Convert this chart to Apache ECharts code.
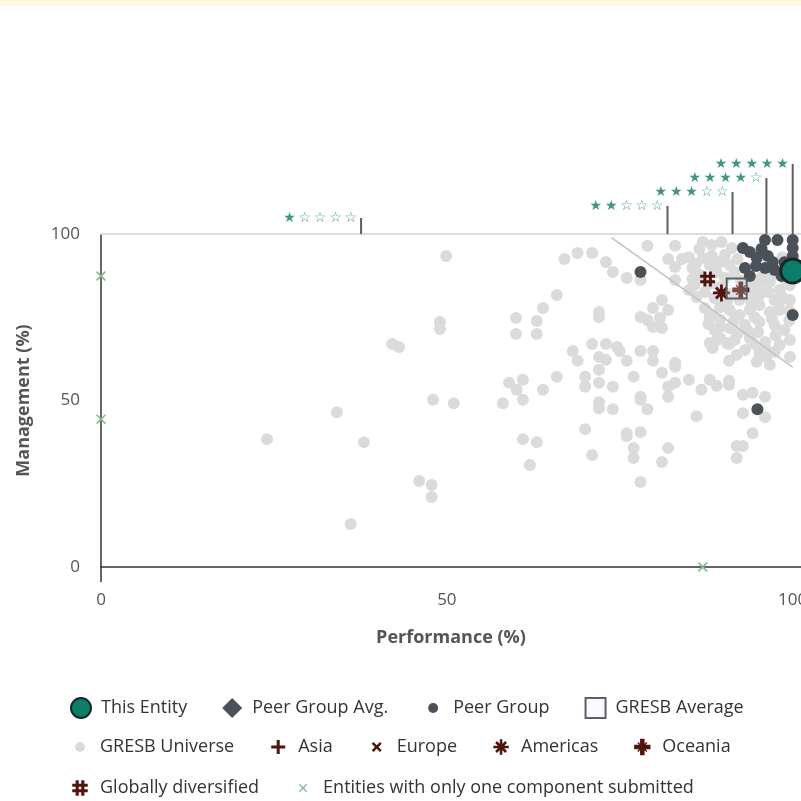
<!DOCTYPE html>
<html>
<head>
<meta charset="utf-8">
<script src="https://cdn.jsdelivr.net/npm/echarts@6/dist/echarts.min.js"></script>
<style>
html,body{margin:0;padding:0;background:#fff;}
#band{position:absolute;left:0;top:0;width:801px;height:6px;background:#fff7e1;}
#chart{position:absolute;left:0;top:0;width:801px;height:801px;}
</style>
</head>
<body>
<div id="chart"></div>
<div id="band"></div>
<script>
// ---- data ----
const thisEntity = [[100, 88.9]];
const peerGroupAvg = [];
const peerGroup = [
  [78.0,88.6],[94.9,47.4],[100,75.7],[92.8,95.8],[93.8,94.6],[96.0,98.2],[97.8,98.2],[100,98.2],
  [100,95.8],[100,93.4],[94.8,92.8],[96.4,93.4],[93.1,89.8],[94.7,90.4],[96.0,89.8],[97.4,89.2],
  [98.4,87.4],[93.8,87.4],[97.1,91.6],[99.1,89.2],[95.5,95.5],[98.8,91.5]
];
const gresbAverage = [[91.9, 83.6]];
const gresbUniverse = [
  [24.0,38.4],[34.1,46.5],[38.0,37.5],[36.1,12.9],[42.1,67.0],[43.1,66.1],[49.9,93.4],[49.0,73.6],
  [49.0,71.5],[48.0,50.2],[51.0,49.2],[46.0,25.8],[47.8,24.6],[47.8,21.0],
  [67.0,92.5],[68.9,94.3],[71.0,94.3],[73.0,91.6],[74.0,88.6],[76.0,86.8],[78.0,86.2],
  [65.9,81.7],[63.9,77.8],[60.0,74.8],[63.0,73.9],[60.0,70.0],[63.0,70.0],[72.0,76.6],[72.0,75.1],
  [79.0,96.5],[83.0,96.5],[82.0,92.5],[84.0,92.5],[83.0,90.1],[83.0,86.2],[85.0,83.2],[86.1,81.1],
  [81.1,80.2],[79.8,77.8],[82.0,77.2],[78.0,75.1],[79.0,74.2],[80.8,74.8],[79.8,72.1],[81.1,71.8],
  [71.0,67.0],[73.0,67.0],[74.6,66.1],[75.0,64.9],[68.2,64.9],[68.9,61.9],[72.0,63.1],[73.0,62.2],
  [76.0,61.9],[78.0,64.9],[79.8,64.9],[79.8,61.9],[83.0,61.3],[83.0,60.1],[72.0,59.2],
  [70.0,57.1],[70.0,54.1],[72.0,55.3],[74.0,54.1],[77.0,57.1],[81.1,58.3],[83.0,55.3],[82.0,54.1],
  [82.0,51.1],[85.0,56.2],[86.8,53.2],[88.0,56.2],[89.0,54.4],[90.8,55.9],[90.8,54.7],
  [59.0,55.3],[60.1,53.2],[61.0,56.2],[61.0,50.2],[58.1,49.2],[63.9,53.2],[65.9,57.1],
  [72.0,49.5],[72.0,47.7],[74.0,47.4],[78.0,51.1],[78.0,50.2],[79.0,47.4],[86.1,45.3],
  [88.0,67.3],[89.0,68.2],[88.4,65.8],[90.8,67.0],[91.9,63.7],[90.8,61.9],[94.2,67.3],[95.2,65.2],
  [96.2,63.1],[94.8,61.6],
  [92.8,51.7],[94.2,52.3],[96.0,51.1],[92.8,46.2],[96.0,45.0],
  [94.2,40.2],[91.9,36.3],[92.8,36.3],[91.9,32.7],
  [70.0,41.4],[61.0,38.4],[63.0,37.5],[62.0,30.6],
  [76.0,40.2],[76.0,39.3],[78.0,40.5],[77.0,35.7],[77.0,32.7],[82.0,35.7],[81.1,31.5],[71.0,33.6],[78.0,25.5],
  [87.0,97.6],[88.3,96.7],[89.7,97.6],[91.2,95.8],[90.2,93.7],[88.3,93.4],[87.0,92.8],[85.5,89.8],
  [86.6,87.7],[88.0,90.7],[89.5,91.6],[90.9,90.7],[91.6,88.6],[90.2,86.8],[85.8,84.7],[87.3,82.6],
  [88.7,80.8],[90.5,79.6],[92.3,80.2],[93.8,83.2],[95.2,84.7],[96.7,85.6],[98.1,83.2],[99.6,84.7],
  [95.2,81.7],[97.4,80.2],[99.6,80.2],[87.3,77.8],[88.3,75.7],[89.5,74.2],[90.9,77.2],[92.3,75.7],
  [93.8,77.2],[95.2,78.7],[96.7,76.6],[98.1,77.2],[93.1,72.7],[95.2,73.6],[97.4,72.7],[98.8,71.2],
  [90.9,71.8],[88.7,71.2],[89.5,68.8],[91.6,68.2],[93.8,68.8],[96.0,67.6],[98.1,66.7],[99.6,68.2],
  [93.1,65.2],[95.2,63.7],[97.4,64.6],[99.6,63.1],[96.7,60.7],[88.0,75.1],[88.4,66.1],[90.5,67.3],
  [93.4,71.2],[96.2,65.2],[89.5,72.1],[91.3,72.1],
  [92.0,92.5],[95.5,96.0],[98.5,93.0],[94.0,86.0],[97.0,87.5],[99.0,86.0],[86.5,95.5],[85.0,93.0],
  [86.0,91.0],[89.0,88.5],[92.5,86.0],[95.5,87.0],[94.5,82.0],[96.5,82.5],[98.5,81.0],[91.0,82.0],
  [89.5,78.0],[94.5,75.0],[97.0,74.5],[99.5,74.0],[99.5,77.0],[91.5,74.0],[94.0,79.5],[98.0,79.0],
  [92.0,70.0],[95.0,70.5],[97.5,69.5],[87.8,73.0],[89.5,84.0],[85.5,86.5],[88.0,85.0]
];
const asia = [];
const europe = [];
const americas = [[89.7, 82.3]];
const oceania = [[92.5, 83.2]];
const globallyDiversified = [[87.7, 86.5]];
const oneComponent = [[0, 87.4], [0, 44.4], [87.0, 0]];
const diagonalLine = [[73.8, 98.9], [100, 60.0]];
const starThresholds = [37.6, 81.9, 91.3, 96.2, 100];
const starLineTops = [104.8, 108.4, 112.6, 116.8, 121.0];
const starLabels = ['★\u2009☆\u2009☆\u2009☆\u2009☆', '★\u2009★\u2009☆\u2009☆\u2009☆', '★\u2009★\u2009★\u2009☆\u2009☆',
                    '★\u2009★\u2009★\u2009★\u2009☆', '★\u2009★\u2009★\u2009★\u2009★'];
const xTickLabels = [0, 50, 100];
const yTickLabels = [0, 50, 100];

// ---- symbols ----
const P_PLUS = 'path://M8.5,3H11.5V8.5H17V11.5H11.5V17H8.5V11.5H3V8.5H8.5Z';
const P_CROSS = 'path://M4,6L6,4L10,8L14,4L16,6L12,10L16,14L14,16L10,12L6,16L4,14L8,10Z';
const P_AST = 'path://M8.6,1.5H11.4V18.5H8.6Z M1.5,8.6H18.5V11.4H1.5Z M3.5,5.5L5.5,3.5L16.5,14.5L14.5,16.5Z M14.5,3.5L16.5,5.5L5.5,16.5L3.5,14.5Z M6.5,6.5H13.5V13.5H6.5Z';
const P_OCE = 'path://M7.5,1H12.5V6.5L14.5,4.5L15.5,5.5L13.5,7.5H19V12.5H13.5L15.5,14.5L14.5,15.5L12.5,13.5V19H7.5V13.5L5.5,15.5L4.5,14.5L6.5,12.5H1V7.5H6.5L4.5,5.5L5.5,4.5L7.5,6.5Z';
const P_HASH = 'path://M5.2,1.5H8.6V18.5H5.2Z M11.4,1.5H14.8V18.5H11.4Z M1.5,5.2H18.5V8.6H1.5Z M1.5,11.4H18.5V14.8H1.5Z';
const P_XS = 'path://M5,6.2L6.2,5L10,8.8L13.8,5L15,6.2L11.2,10L15,13.8L13.8,15L10,11.2L6.2,15L5,13.8L8.8,10Z';
const L_DOT = 'path://M0,0M20,20M5,10A5,5 0 1,1 15,10A5,5 0 1,1 5,10Z';
const L_PLUS = 'path://M0,0M20,20' + P_PLUS.slice(7);
const L_CROSS = 'path://M0,0M20,20M5,6.8L6.8,5L10,8.2L13.2,5L15,6.8L11.8,10L15,13.2L13.2,15L10,11.8L6.8,15L5,13.2L8.2,10Z';
const L_AST = 'path://M-1,-1M21,21' + P_AST.slice(7);
const L_OCE = 'path://M-1,-1M21,21' + P_OCE.slice(7);
const L_HASH = 'path://M-1,-1M21,21' + P_HASH.slice(7);
const L_XS = 'path://M-2,-2M22,22' + P_XS.slice(7);

const BROWN = '#4e160d';
const FONT = "'Open Sans', 'DejaVu Sans', sans-serif";

const chart = echarts.init(document.getElementById('chart'), null, {renderer: 'canvas'});

const starLineSeries = starThresholds.map((t, i) => ({
  type: 'line', name: 'star' + i, data: [[t, 100], [t, starLineTops[i]]],
  symbol: 'none', clip: false, silent: true, z: 5,
  lineStyle: {color: '#5e5e5e', width: 2}
}));

const legendText = {color: '#333', fontSize: 18, fontFamily: FONT, padding: [0, 0, 0, 5]};
const legendBase = {left: 70, padding: 0, itemWidth: 20, itemHeight: 20, itemGap: 34, textStyle: legendText};

chart.setOption({
  animation: false,
  grid: {left: 101, right: 0, top: 234, bottom: 234, containLabel: false, outerBoundsMode: 'none'},
  xAxis: [{
    type: 'value', min: 0, max: 101.2, interval: 50,
    name: 'Performance (%)', nameLocation: 'middle', nameGap: 62,
    nameTextStyle: {color: '#555', fontSize: 18, fontWeight: 'bold', fontFamily: FONT},
    axisLine: {show: true, onZero: false, lineStyle: {color: '#333', width: 1.5}},
    axisTick: {show: true, customValues: [0], length: 15, lineStyle: {color: '#333', width: 1.5}},
    axisLabel: {customValues: xTickLabels, color: '#555', fontSize: 17, fontFamily: FONT, margin: 25},
    splitLine: {show: false}
  }, {
    type: 'value', min: 0, max: 101.2, position: 'top',
    axisLine: {show: true, onZero: false, lineStyle: {color: '#dcdcdc', width: 2}},
    axisTick: {show: false}, axisLabel: {show: false}, splitLine: {show: false}
  }],
  yAxis: {
    type: 'value', min: 0, max: 100, interval: 50,
    name: 'Management (%)', nameLocation: 'middle', nameGap: 68, nameRotate: 90,
    nameTextStyle: {color: '#555', fontSize: 18, fontWeight: 'bold', fontFamily: FONT},
    axisLine: {show: true, lineStyle: {color: '#333', width: 1.5}},
    axisTick: {show: false},
    axisLabel: {customValues: yTickLabels, color: '#555', fontSize: 17, fontFamily: FONT, margin: 21},
    splitLine: {show: false}
  },
  legend: [Object.assign({}, legendBase, {
    top: 697, itemGap: 35,
    data: [
      {name: 'This Entity', icon: 'circle'},
      {name: 'Peer Group Avg.', icon: 'diamond'},
      {name: 'Peer Group', icon: L_DOT},
      {name: 'GRESB Average', icon: 'rect'}
    ]
  }), Object.assign({}, legendBase, {
    top: 737,
    data: [
      {name: 'GRESB Universe', icon: L_DOT},
      {name: 'Asia', icon: L_PLUS},
      {name: 'Europe', icon: L_CROSS},
      {name: 'Americas', icon: L_AST},
      {name: 'Oceania', icon: L_OCE}
    ]
  }), Object.assign({}, legendBase, {
    top: 778,
    data: [
      {name: 'Globally diversified', icon: L_HASH},
      {name: 'Entities with only one component submitted', icon: L_XS}
    ]
  })],
  series: [
    {type: 'scatter', name: 'GRESB Universe', data: gresbUniverse, symbol: 'circle', symbolSize: 12,
     itemStyle: {color: '#dbdbdb', opacity: 1}, z: 1, silent: true},
    {type: 'line', name: 'diag', data: diagonalLine, symbol: 'none', z: 2, silent: true,
     lineStyle: {color: '#c2c2c2', width: 1.5}},
    {type: 'scatter', name: 'Peer Group', data: peerGroup, symbol: 'circle', symbolSize: 12,
     itemStyle: {color: '#4b5159', opacity: 1}, z: 3},
    {type: 'scatter', name: 'Peer Group Avg.', data: peerGroupAvg, symbol: 'diamond', symbolSize: 18,
     itemStyle: {color: '#4b5159', opacity: 1}, z: 3},
    {type: 'scatter', name: 'Asia', data: asia, symbol: P_PLUS, symbolSize: 14, itemStyle: {color: BROWN, opacity: 1}, z: 4},
    {type: 'scatter', name: 'Europe', data: europe, symbol: P_CROSS, symbolSize: 14, itemStyle: {color: BROWN, opacity: 1}, z: 4},
    {type: 'scatter', name: 'Americas', data: americas, symbol: P_AST, symbolSize: 17, itemStyle: {color: BROWN, opacity: 1}, z: 4},
    {type: 'scatter', name: 'Oceania', data: oceania, symbol: P_OCE, symbolSize: 17, itemStyle: {color: BROWN, opacity: 1}, z: 4},
    {type: 'scatter', name: 'Globally diversified', data: globallyDiversified, symbol: P_HASH, symbolSize: 15,
     itemStyle: {color: BROWN, opacity: 1}, z: 4},
    {type: 'scatter', name: 'GRESB Average', data: gresbAverage, symbol: 'rect', symbolSize: 20,
     itemStyle: {color: 'rgba(235,237,245,0.25)', borderColor: '#59606a', borderWidth: 2, opacity: 1}, z: 4},
    {type: 'scatter', name: 'Entities with only one component submitted', data: oneComponent,
     symbol: P_XS, symbolSize: 10, clip: false, itemStyle: {color: '#86b98f', opacity: 1}, z: 6},
    {type: 'scatter', name: 'This Entity', data: thisEntity, symbol: 'circle', symbolSize: 24, clip: false,
     itemStyle: {color: '#0c7d67', borderColor: '#17272a', borderWidth: 3, opacity: 1}, z: 7},
    ...starLineSeries,
    {type: 'scatter', name: 'starLabels', data: starThresholds.map((t, i) => [t, starLineTops[i]]),
     symbolSize: 0, clip: false, silent: true, z: 8,
     label: {show: true, position: 'left', distance: 4,
       formatter: p => starLabels[p.dataIndex],
       color: '#127a66', fontSize: 14, fontFamily: "'DejaVu Sans', sans-serif"}}
  ]
});
</script>
</body>
</html>
